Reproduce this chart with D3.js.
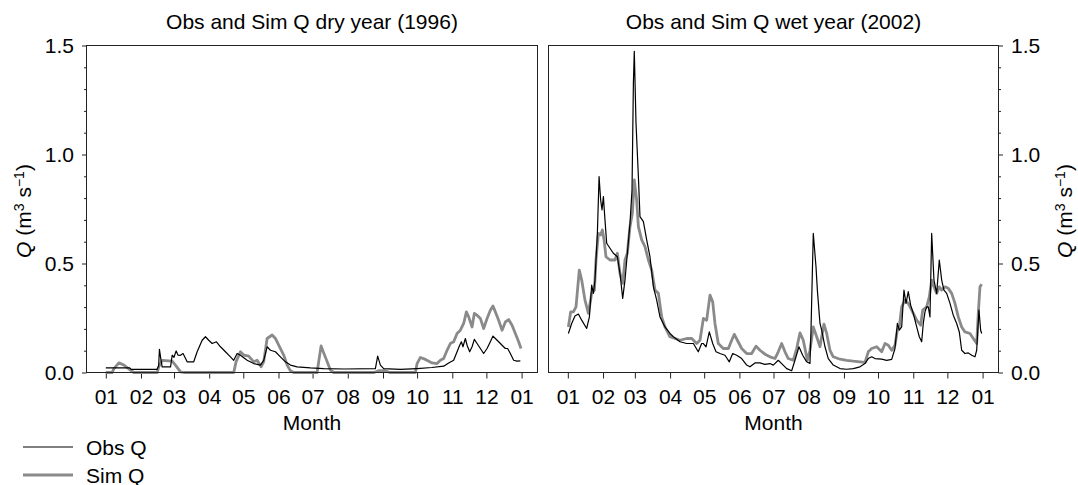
<!DOCTYPE html>
<html><head><meta charset="utf-8">
<script src="https://cdn.jsdelivr.net/npm/d3@7"></script>
<style>
body{margin:0;background:#fff}
svg{display:block;font-family:"Liberation Sans",Arial,Helvetica,sans-serif}
</style>
</head><body>
<svg id="chart" width="1078" height="485"></svg>
<script>
// ---- data (day offset from 1 Jan of the year, Q in m3/s) ----
const titles = ["Obs and Sim Q dry year (1996)", "Obs and Sim Q wet year (2002)"];
const years = [1996, 2002];
const seriesNames = ["Obs Q", "Sim Q"];
const yMajorTicks = [0, 0.5, 1.0, 1.5];
const yMinorTicks = [0.1,0.2,0.3,0.4,0.6,0.7,0.8,0.9,1.1,1.2,1.3,1.4];

const obsDry = [[0,0.021],[21,0.021],[22.5,0.014],[45,0.014],[46.5,0.03],[47.2,0.106],[48.5,0.06],[49.6,0.026],[57,0.026],[58.4,0.079],[60,0.07],[61.9,0.099],[63.5,0.08],[65.7,0.079],[68,0.087],[71.6,0.049],[77.4,0.049],[80.4,0.095],[84.8,0.148],[87.7,0.164],[90.6,0.148],[93.6,0.133],[97.4,0.141],[100.9,0.118],[105.3,0.095],[109.7,0.072],[112.6,0.056],[115.6,0.087],[118.5,0.079],[124.4,0.056],[130.2,0.041],[136.1,0.034],[139,0.056],[142,0.118],[144.9,0.102],[149.3,0.095],[153.7,0.072],[158.1,0.049],[162.5,0.034],[168.4,0.026],[180.1,0.021],[191.8,0.018],[210,0.016],[237.3,0.018],[239.3,0.075],[241.7,0.034],[244.6,0.018],[259.3,0.014],[274,0.018],[287,0.023],[297.4,0.029],[301.8,0.044],[306.2,0.056],[309.2,0.095],[311.5,0.125],[313,0.141],[314.4,0.118],[316.5,0.156],[318,0.125],[320.3,0.095],[322.4,0.118],[324.4,0.152],[326.8,0.133],[329.7,0.11],[332.6,0.087],[335.6,0.11],[338.5,0.141],[340.8,0.167],[342.9,0.156],[345.8,0.141],[348.8,0.125],[351.7,0.11],[353.7,0.11],[356.1,0.087],[359,0.056],[361.9,0.052],[364.9,0.053]];

const simDry = [[0,0],[5.6,0],[7.1,0.018],[11.5,0.044],[15.9,0.034],[21.7,0.011],[24.6,0],[45.2,0],[46.6,0.026],[49.6,0.056],[58.4,0.052],[61.3,0.034],[65.7,0.003],[68.6,0],[112.6,0],[114.7,0.05],[118.5,0.095],[121.4,0.08],[125.8,0.075],[130.2,0.049],[133.2,0.056],[136.7,0.026],[139,0.05],[142,0.156],[146.4,0.172],[149.3,0.156],[152.2,0.126],[156.6,0.08],[159.6,0.034],[162.5,0.008],[165.4,0],[186,0],[187.4,0.05],[189.5,0.122],[191.8,0.09],[197.7,0.011],[200.6,0],[236,0],[240,0.008],[246,0.008],[250,0],[272.5,0],[274,0.041],[276.9,0.069],[281.3,0.06],[287.2,0.044],[291.6,0.041],[294.5,0.056],[297.4,0.064],[300.4,0.102],[303.3,0.133],[306.2,0.141],[309.2,0.179],[312.1,0.194],[315,0.225],[317.4,0.278],[319.4,0.255],[322.4,0.209],[324.4,0.271],[326.8,0.263],[329.7,0.248],[332.6,0.202],[335.6,0.248],[338.5,0.286],[340.8,0.305],[342.9,0.278],[345.8,0.24],[348.8,0.194],[351.7,0.232],[354.6,0.243],[357.6,0.217],[360.5,0.179],[363.4,0.141],[365.5,0.11]];

const obsWet = [[0.5,0.179],[3.4,0.225],[6.3,0.259],[9.3,0.268],[12.2,0.24],[16.6,0.202],[19,0.255],[21,0.401],[22.5,0.363],[23.9,0.424],[26,0.638],[27.5,0.899],[28.9,0.791],[30.1,0.746],[31.3,0.807],[32.7,0.70],[34.2,0.593],[37.1,0.57],[40.1,0.547],[43.6,0.531],[45.9,0.455],[48.3,0.34],[50.3,0.424],[52.4,0.547],[54.7,0.684],[56.5,0.837],[57.7,1.327],[58.5,1.473],[60,1.144],[62.1,0.899],[63.5,0.715],[66.5,0.692],[69.4,0.608],[72.3,0.531],[75.3,0.393],[78.2,0.332],[81.1,0.255],[85.5,0.209],[89.9,0.179],[92.9,0.164],[98.7,0.141],[104.6,0.133],[110.5,0.133],[114.8,0.095],[117.8,0.133],[119.3,0.133],[121.6,0.118],[124.5,0.186],[127.5,0.133],[130.4,0.095],[133.9,0.087],[138.3,0.079],[142.1,0.049],[145.1,0.087],[148.6,0.079],[153,0.064],[157.4,0.034],[160.3,0.026],[164.7,0.044],[169.1,0.044],[173.5,0.037],[177.9,0.041],[180.8,0.034],[185.2,0.056],[188.2,0.041],[192.6,0.018],[197,0.008],[199.9,0.056],[203.4,0.118],[206.7,0.079],[210.2,0.049],[213.1,0.041],[214,0.194],[216,0.638],[218.4,0.485],[219.6,0.378],[221.9,0.225],[223.4,0.194],[226.3,0.118],[229.2,0.064],[233.6,0.034],[239.5,0.018],[245.4,0.015],[251.2,0.018],[257.1,0.026],[261.5,0.041],[264.4,0.064],[267.4,0.072],[270.3,0.064],[276.2,0.061],[280.6,0.056],[285,0.06],[287.9,0.11],[290,0.225],[291.7,0.194],[293.8,0.209],[295.8,0.378],[297.6,0.317],[299.6,0.371],[301.7,0.309],[304,0.271],[307,0.209],[309.3,0.164],[311.4,0.141],[312.8,0.225],[314.3,0.278],[315.8,0.301],[317.2,0.301],[318.7,0.255],[320.2,0.638],[322.2,0.424],[324.6,0.363],[326.9,0.516],[329,0.424],[331,0.378],[333.4,0.363],[336.3,0.317],[339.2,0.263],[342.2,0.225],[344.5,0.186],[346.6,0.102],[349.5,0.087],[352.4,0.09],[355.4,0.079],[358.3,0.072],[359.8,0.102],[361.8,0.286],[363.3,0.194],[364.2,0.179]];

const simWet = [[0.5,0.209],[2.5,0.278],[4.9,0.278],[7.2,0.301],[10.1,0.47],[12.2,0.424],[15.1,0.332],[18.1,0.271],[21,0.363],[23.4,0.378],[24.8,0.516],[26.9,0.638],[28.9,0.631],[30.4,0.654],[31.9,0.608],[33.6,0.531],[37.1,0.516],[41.5,0.516],[43.6,0.547],[45.9,0.455],[48.3,0.409],[50.3,0.516],[52.4,0.547],[54.7,0.669],[56.8,0.73],[58.5,0.883],[60.6,0.791],[62.1,0.669],[65,0.608],[67.9,0.577],[70.9,0.516],[73.8,0.47],[76.7,0.378],[79.7,0.363],[82.6,0.255],[85.5,0.209],[89.9,0.164],[94.3,0.156],[98.7,0.148],[104.6,0.156],[109,0.156],[113.4,0.133],[116.3,0.148],[119.3,0.248],[122.2,0.24],[125.1,0.355],[127.5,0.324],[129.5,0.225],[132.4,0.133],[136.8,0.11],[141.3,0.11],[144.2,0.148],[146.5,0.175],[149.2,0.148],[153,0.11],[157.4,0.087],[161.8,0.087],[165.6,0.121],[169.1,0.102],[173.5,0.084],[177.9,0.072],[182.3,0.064],[185.2,0.095],[188.2,0.133],[191.1,0.095],[194,0.064],[198.4,0.056],[201.4,0.11],[204.3,0.182],[207.2,0.148],[210.8,0.056],[213.1,0.102],[216,0.209],[219,0.164],[221.9,0.118],[225.4,0.222],[227.8,0.179],[230.7,0.102],[233.6,0.072],[239.5,0.061],[245.4,0.056],[251.2,0.052],[257.1,0.049],[261.5,0.046],[264.4,0.095],[267.4,0.11],[271.8,0.118],[276.2,0.095],[279.1,0.133],[282,0.125],[285,0.102],[287.9,0.125],[290,0.194],[291.7,0.209],[293.8,0.301],[296.7,0.332],[299.6,0.317],[302.6,0.286],[307,0.24],[310.5,0.217],[312.3,0.286],[315.8,0.301],[318.1,0.347],[320.2,0.424],[322.2,0.393],[324.6,0.363],[326.9,0.393],[329,0.378],[331.9,0.393],[334.8,0.386],[337.8,0.363],[340.7,0.317],[343.6,0.255],[346.6,0.209],[349.5,0.186],[353.9,0.179],[356.8,0.156],[359.8,0.133],[361.2,0.271],[362.7,0.393],[364.2,0.405]];

// ---- layout ----
const FONT = 21;
const TOP = 45.5, BOTTOM = 372.5;
const panels = [
  {title: titles[0], year: years[0], obs: obsDry, sim: simDry, x0: 86.5, x1: 537.5, side: "left"},
  {title: titles[1], year: years[1], obs: obsWet, sim: simWet, x0: 548.5, x1: 998.5, side: "right"}
];
const OBS_COLOR = "#000", SIM_COLOR = "#8a8a8a";
const svg = d3.select("#chart");
svg.append("rect").attr("width",1078).attr("height",485).attr("fill","#fff");

const y = d3.scaleLinear().domain([0, 1.5]).range([BOTTOM, TOP]);
const DAY = 86400000;

panels.forEach(p => {
  const x = d3.scaleUtc()
    .domain([new Date(Date.UTC(p.year - 1, 11, 15)), new Date(Date.UTC(p.year + 1, 0, 15))])
    .range([p.x0, p.x1]);
  const toDate = d => new Date(Date.UTC(p.year, 0, 1) + d * DAY);
  const g = svg.append("g");

  // x axis
  const xAxis = d3.axisBottom(x).ticks(d3.utcMonth.every(1)).tickFormat(d3.utcFormat("%m"))
    .tickSize(6).tickPadding(10.5);
  const gx = g.append("g").attr("transform", `translate(0,${BOTTOM})`).call(xAxis);
  gx.select(".domain").remove();
  gx.selectAll("text").attr("font-size", FONT).attr("font-family", null).attr("fill","#000");
  gx.selectAll("line").attr("stroke","#222");

  // y axis
  const isLeft = p.side === "left";
  const ax = isLeft ? d3.axisLeft(y) : d3.axisRight(y);
  const yAxis = ax.tickValues(yMajorTicks).tickFormat(d3.format(".1f")).tickSize(4.5).tickPadding(8);
  const gy = g.append("g").attr("transform", `translate(${isLeft ? p.x0 : p.x1},0)`).call(yAxis);
  gy.select(".domain").remove();
  gy.selectAll("text").attr("font-size", FONT).attr("font-family", null).attr("fill","#000");
  gy.selectAll("line").attr("stroke","#222");
  const ax2 = isLeft ? d3.axisLeft(y) : d3.axisRight(y);
  const gym = g.append("g").attr("transform", `translate(${isLeft ? p.x0 : p.x1},0)`)
    .call(ax2.tickValues(yMinorTicks).tickFormat("").tickSize(2.5));
  gym.select(".domain").remove();
  gym.selectAll("line").attr("stroke","#222");

  // lines
  const line = d3.line().x(d => x(toDate(d[0]))).y(d => y(d[1]));
  g.append("path").datum(p.sim).attr("d", line).attr("fill","none")
    .attr("stroke", SIM_COLOR).attr("stroke-width", 2.8).attr("stroke-linejoin","round");
  g.append("path").datum(p.obs).attr("d", line).attr("fill","none")
    .attr("stroke", OBS_COLOR).attr("stroke-width", 1.2).attr("stroke-linejoin","round");

  // frame
  g.append("rect").attr("x", p.x0).attr("y", TOP).attr("width", p.x1 - p.x0).attr("height", BOTTOM - TOP)
    .attr("fill","none").attr("stroke","#222").attr("stroke-width",1);

  // title
  g.append("text").attr("x", (p.x0 + p.x1) / 2).attr("y", 29).attr("text-anchor","middle")
    .attr("font-size", FONT).text(p.title);
  // x label
  g.append("text").attr("x", (p.x0 + p.x1) / 2).attr("y", 430).attr("text-anchor","middle")
    .attr("font-size", FONT).text("Month");

  // y label
  const lx = isLeft ? 31 : 1072;
  const t = g.append("text").attr("transform", `translate(${lx},211) rotate(-90)`)
    .attr("text-anchor","middle").attr("font-size", FONT);
  t.append("tspan").attr("font-style","italic").text("Q");
  t.append("tspan").text(" (m");
  t.append("tspan").attr("dy",-7).attr("font-size",14).text("3");
  t.append("tspan").attr("dy",7).text(" s");
  t.append("tspan").attr("dy",-7).attr("font-size",14).text("\u22121");
  t.append("tspan").attr("dy",7).text(")");
});

// legend
const legend = svg.append("g");
[[OBS_COLOR, 1.2, 447], [SIM_COLOR, 2.8, 475]].forEach((s, i) => {
  legend.append("line").attr("x1",23).attr("x2",73).attr("y1",s[2]).attr("y2",s[2])
    .attr("stroke", s[0]).attr("stroke-width", s[1]);
  legend.append("text").attr("x",86).attr("y",s[2] + 7.5).attr("font-size",FONT).text(seriesNames[i]);
});
</script>
</body></html>
